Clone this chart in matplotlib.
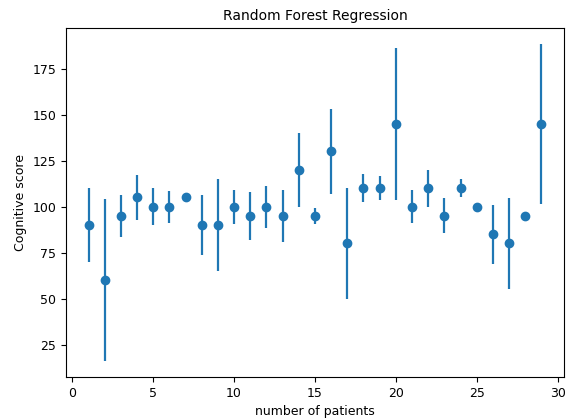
import numpy as np
import matplotlib as mpl
mpl.use('agg')
import matplotlib.pyplot as plt

# data
patients = np.arange(1, 30)
score = [90, 60, 95, 105, 100, 100, 105, 90, 90, 100,
         95, 100, 95, 120, 95, 130, 80, 110, 110, 145,
         100, 110, 95, 110, 100, 85, 80, 95, 145]
err = [20, 44, 11.5, 12, 10, 8.7, 0, 16.5, 25, 9.3,
       13, 11.5, 14, 20, 4.5, 23, 30, 7.5, 6.5, 41.5,
       9, 10, 9.5, 5, 0, 16, 24.5, 0, 43.5]

fig = plt.figure(figsize=(5.68, 4.18), dpi=100)
ax = fig.add_axes([0.116, 0.098, 0.877, 0.835])
ax.errorbar(patients, score, yerr=err, fmt='o', elinewidth=1.6)
ax.set_title('Random Forest Regression', fontsize=10)
ax.set_xlabel('number of patients', fontsize=9)
ax.set_ylabel('Cognitive score', fontsize=9)
ax.tick_params(labelsize=9)
ax.set_yticks([25, 50, 75, 100, 125, 150, 175])
fig.savefig('out.png', dpi=100)
